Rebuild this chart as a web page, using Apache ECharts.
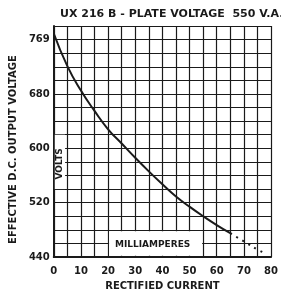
<!DOCTYPE html>
<html lang="en">

<head>
    <meta charset="utf-8">
    <style type="text/css">
    body {
        margin: 0;
        background-color: #fff
    }

    #echarts {
        width: 281px;
        height: 298px;
    }
    </style>
</head>

<body>
    <div id="echarts"></div>
    <script type="text/javascript" src="https://cdn.jsdelivr.net/npm/echarts@6/dist/echarts.min.js"></script>
    <script type="text/javascript">
    // solid part of the curve (mA, volts)
    var currentSolid = [0, 5, 10, 15, 20, 25, 30, 35, 40, 45, 50, 55, 60, 65];
    var voltsSolid = [769, 721, 685, 655, 628, 607, 586, 566, 547, 529, 514, 500, 487, 475];
    // dotted extension
    var currentDotted = [65, 70, 75, 77];
    var voltsDotted = [475, 463, 451, 447];

    // tick labels
    var xTickLabels = { 0: '0', 10: '10', 20: '20', 30: '30', 40: '40', 50: '50', 60: '60', 70: '70', 80: '80' };
    var yTickLabels = { 440: '440', 520: '520', 600: '600', 680: '680', 760: '769' };

    var ink = '#1a1a1a';
    var font = 'DejaVu Sans';

    function pairs(xs, ys) {
        return xs.map(function(x, i) {
            return [x, ys[i]];
        });
    }

    var myEcharts = echarts.init(document.getElementById('echarts'));

    var option = {
        animation: false,
        title: {
            text: 'UX 216 B - PLATE VOLTAGE  550 V.A.C',
            left: 55,
            top: 4,
            textStyle: { color: ink, fontFamily: font, fontWeight: 'bold', fontSize: 11 }
        },
        grid: { left: 52, right: 9, top: 26, bottom: 41 },
        xAxis: {
            type: 'value',
            min: 0,
            max: 80,
            interval: 5,
            name: 'RECTIFIED CURRENT',
            nameLocation: 'middle',
            nameGap: 24,
            nameTextStyle: { color: ink, fontFamily: font, fontWeight: 'bold', fontSize: 10 },
            axisLine: { lineStyle: { color: ink, width: 2 } },
            axisTick: { show: false },
            axisLabel: {
                color: ink, fontFamily: font, fontWeight: 'bold', fontSize: 10, margin: 9,
                formatter: function(v) { return xTickLabels[v] || ''; }
            },
            splitLine: { lineStyle: { color: ink, width: 1.2 } }
        },
        yAxis: {
            type: 'value',
            min: 440,
            max: 780,
            interval: 20,
            name: 'EFFECTIVE D.C. OUTPUT VOLTAGE',
            nameLocation: 'middle',
            nameGap: 28,
            nameTextStyle: { color: ink, fontFamily: font, fontWeight: 'bold', fontSize: 10, padding: [0, 16, 0, 0] },
            axisLine: { lineStyle: { color: ink, width: 2 } },
            axisTick: { show: false },
            axisLabel: {
                color: ink, fontFamily: font, fontWeight: 'bold', fontSize: 10, margin: 4,
                formatter: function(v) { return yTickLabels[v] || ''; }
            },
            splitLine: { lineStyle: { color: ink, width: 1.2 } }
        },
        series: [{
            type: 'line',
            data: pairs(currentSolid, voltsSolid),
            smooth: true,
            symbol: 'none',
            lineStyle: { color: ink, width: 2 },
            z: 5
        }, {
            type: 'line',
            data: pairs(currentDotted, voltsDotted),
            smooth: true,
            symbol: 'none',
            lineStyle: { color: ink, width: 2, type: [2, 5] },
            z: 5
        }]
    };
    myEcharts.setOption(option);

    // white boxes with the inside labels, placed from data coordinates
    var p = function(x, y) { return myEcharts.convertToPixel({ gridIndex: 0 }, [x, y]); };
    var v0 = p(0, 540), v1 = p(3.8, 620);
    var m0 = p(20, 442), m1 = p(55, 478);
    myEcharts.setOption({
        graphic: [{
            type: 'rect',
            shape: { x: v0[0] + 1, y: v1[1], width: v1[0] - v0[0], height: v0[1] - v1[1] },
            style: { fill: '#fff' },
            z: 10
        }, {
            type: 'text',
            x: (v0[0] + v1[0]) / 2 + 1,
            y: (v0[1] + v1[1]) / 2 + 2,
            rotation: Math.PI / 2,
            style: {
                text: 'VOLTS', fill: ink, font: 'bold 9px "DejaVu Sans"',
                align: 'center', verticalAlign: 'middle'
            },
            z: 11
        }, {
            type: 'rect',
            shape: { x: m0[0] + 1, y: m1[1], width: m1[0] - m0[0] - 2, height: m0[1] - m1[1] },
            style: { fill: '#fff' },
            z: 10
        }, {
            type: 'text',
            x: (m0[0] + m1[0]) / 2 - 3,
            y: (m0[1] + m1[1]) / 2 + 1,
            style: {
                text: 'MILLIAMPERES', fill: ink, font: 'bold 9px "DejaVu Sans"',
                align: 'center', verticalAlign: 'middle'
            },
            z: 11
        }]
    });
    </script>
</body>

</html>
